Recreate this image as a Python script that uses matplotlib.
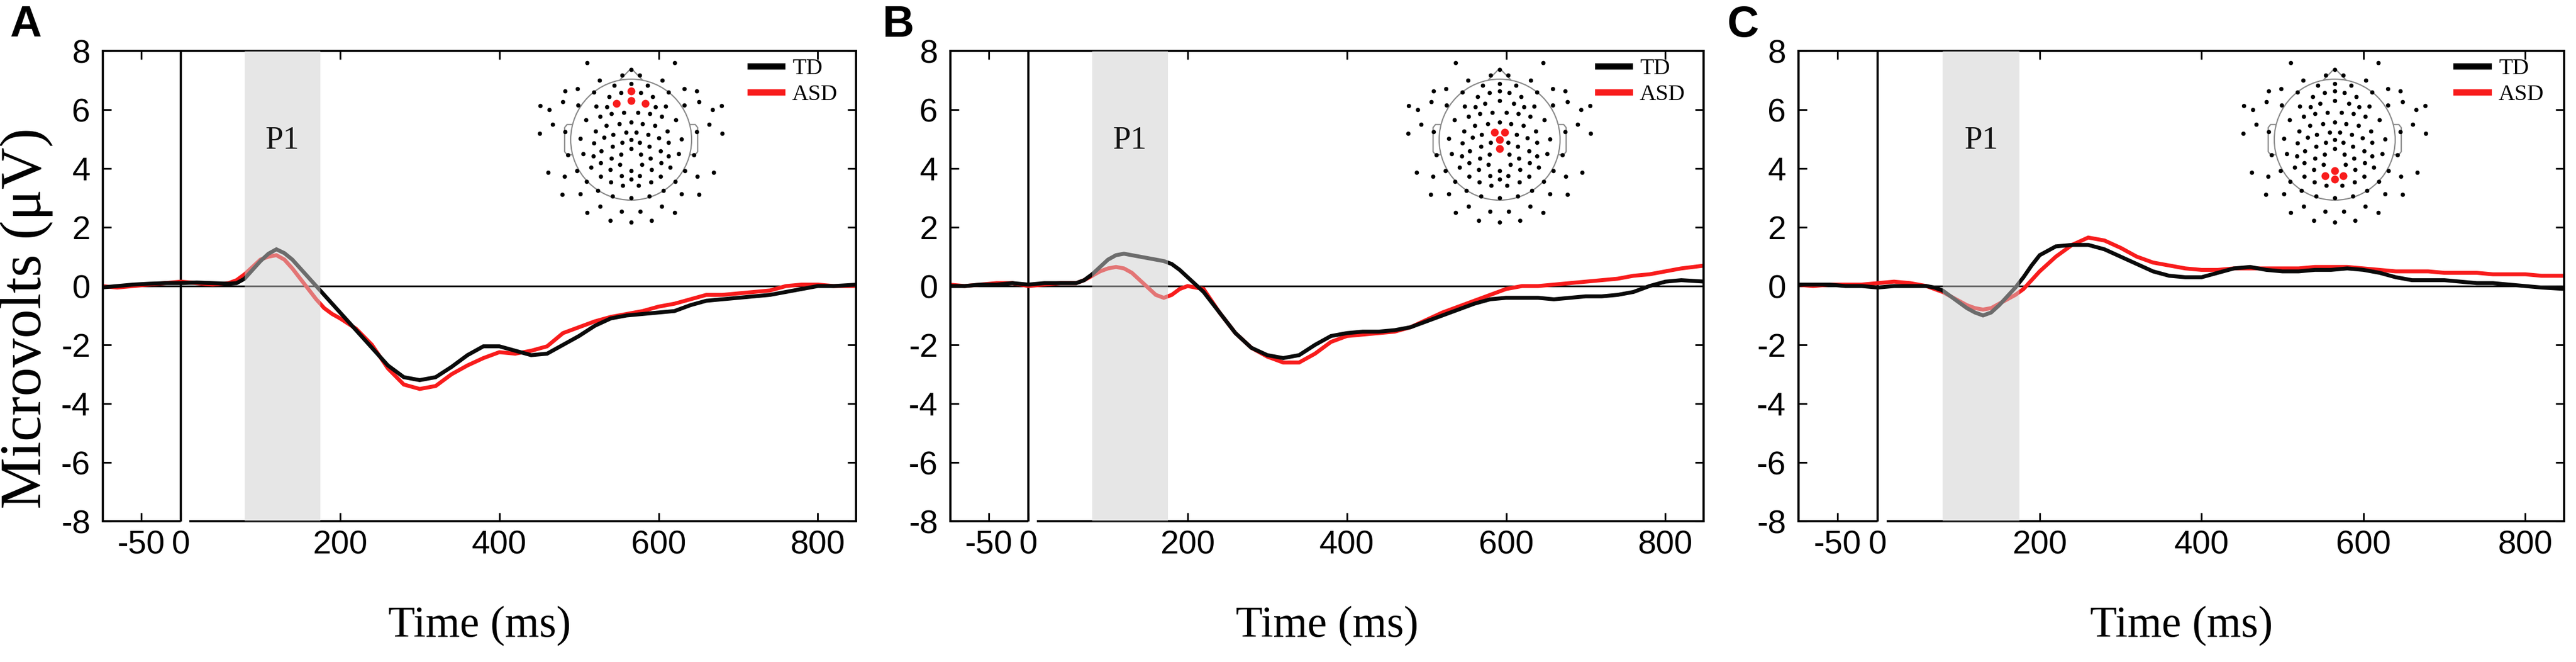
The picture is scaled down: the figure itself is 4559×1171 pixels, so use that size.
import numpy as np
import matplotlib
matplotlib.use("Agg")
import matplotlib.pyplot as plt
from matplotlib.lines import Line2D
from matplotlib.patches import Circle

plt.rcParams['axes.unicode_minus'] = False

# ---------------- data ----------------
time_ms = [-100, -80, -60, -40, -20, 0, 20, 40, 60, 70, 80, 90, 100, 110, 120, 130,
           140, 150, 160, 170, 180, 190, 200, 220, 240, 260, 280, 300, 320, 340, 360,
           380, 400, 420, 440, 460, 480, 500, 520, 540, 560, 580, 600, 620, 640, 660,
           680, 700, 720, 740, 760, 780, 800, 820, 850]

A_TD = [-0.05, 0.0, 0.05, 0.08, 0.1, 0.1, 0.12, 0.1, 0.08, 0.1, 0.25, 0.55, 0.85, 1.1,
        1.25, 1.12, 0.9, 0.6, 0.3, 0.0, -0.3, -0.6, -0.9, -1.5, -2.1, -2.7, -3.1, -3.2,
        -3.1, -2.75, -2.35, -2.05, -2.05, -2.2, -2.35, -2.3, -2.0, -1.7, -1.35, -1.1,
        -1.0, -0.95, -0.9, -0.85, -0.65, -0.5, -0.45, -0.4, -0.35, -0.3, -0.2, -0.1,
        0.0, 0.0, 0.05]
A_ASD = [0.0, -0.05, 0.0, 0.05, 0.1, 0.15, 0.1, 0.05, 0.1, 0.2, 0.4, 0.65, 0.9, 1.0,
         1.05, 0.9, 0.6, 0.25, -0.1, -0.45, -0.75, -0.95, -1.1, -1.45, -2.0, -2.8, -3.35,
         -3.5, -3.4, -3.0, -2.7, -2.45, -2.25, -2.3, -2.2, -2.05, -1.6, -1.4, -1.2, -1.05,
         -0.95, -0.85, -0.7, -0.6, -0.45, -0.3, -0.3, -0.25, -0.2, -0.15, 0.0, 0.05,
         0.05, 0.0, 0.0]

B_TD = [0.0, 0.0, 0.05, 0.05, 0.1, 0.05, 0.1, 0.1, 0.1, 0.2, 0.4, 0.65, 0.9, 1.05,
        1.1, 1.05, 1.0, 0.95, 0.9, 0.85, 0.75, 0.55, 0.3, -0.2, -0.9, -1.6, -2.1, -2.35,
        -2.45, -2.35, -2.0, -1.7, -1.6, -1.55, -1.55, -1.5, -1.4, -1.2, -1.0, -0.8,
        -0.6, -0.45, -0.4, -0.4, -0.4, -0.45, -0.4, -0.35, -0.35, -0.3, -0.2, 0.0,
        0.15, 0.2, 0.15]
B_ASD = [0.05, 0.0, 0.05, 0.1, 0.1, 0.0, 0.05, 0.1, 0.1, 0.2, 0.35, 0.5, 0.6, 0.65,
         0.6, 0.45, 0.2, -0.05, -0.3, -0.4, -0.3, -0.1, 0.0, -0.1, -0.9, -1.6, -2.1,
         -2.4, -2.6, -2.6, -2.3, -1.9, -1.7, -1.65, -1.6, -1.55, -1.4, -1.15, -0.9,
         -0.7, -0.5, -0.3, -0.1, 0.0, 0.0, 0.05, 0.1, 0.15, 0.2, 0.25, 0.35, 0.4, 0.5,
         0.6, 0.7]

C_TD = [0.05, 0.05, 0.05, 0.0, 0.0, -0.05, 0.0, 0.0, 0.0, -0.05, -0.15, -0.35, -0.55,
        -0.75, -0.9, -1.0, -0.9, -0.65, -0.35, -0.05, 0.3, 0.7, 1.05, 1.35, 1.4, 1.4,
        1.25, 1.0, 0.75, 0.5, 0.35, 0.3, 0.3, 0.45, 0.6, 0.65, 0.55, 0.5, 0.5, 0.55,
        0.55, 0.6, 0.55, 0.45, 0.3, 0.2, 0.2, 0.2, 0.15, 0.1, 0.1, 0.05, 0.0, -0.05,
        -0.1]
C_ASD = [0.05, 0.0, 0.05, 0.05, 0.05, 0.1, 0.15, 0.1, 0.0, -0.1, -0.2, -0.35, -0.5,
         -0.65, -0.75, -0.8, -0.75, -0.6, -0.45, -0.3, -0.1, 0.2, 0.5, 1.0, 1.4, 1.65,
         1.55, 1.3, 1.0, 0.8, 0.7, 0.6, 0.55, 0.55, 0.6, 0.6, 0.6, 0.6, 0.6, 0.65, 0.65,
         0.65, 0.6, 0.55, 0.5, 0.5, 0.5, 0.45, 0.45, 0.45, 0.4, 0.4, 0.4, 0.35, 0.35]

panel_letters = ['A', 'B', 'C']
series_names = ['TD', 'ASD']
p1_window = (80, 175)
y_ticks = [-8, -6, -4, -2, 0, 2, 4, 6, 8]
y_tick_labels = ['-8', '-6', '-4', '-2', '0', '2', '4', '6', '8']
x_ticks = [-50, 0, 200, 400, 600, 800]
x_tick_labels = ['-50', '0', '200', '400', '600', '800']

elec_x = [268, 732, 501, 453, 546, 333, 665, 410, 501, 588, 150, 216, 303, 448, 553, 698,
          783, 849, 501, 501, 424, 575, 383, 615, 18, 67, 138, 218, 316, 371, 629, 683,
          782, 860, 932, 980, 397, 462, 537, 601, 260, 336, 662, 738, 83, 370, 438, 501,
          561, 628, 916, 16, 150, 311, 473, 527, 693, 849, 983, 232, 356, 406, 592, 647,
          767, 501, 303, 454, 545, 700, 402, 501, 597, 165, 246, 299, 342, 447, 552, 657,
          700, 752, 833, 396, 603, 340, 442, 558, 660, 61, 212, 288, 389, 501, 609, 709,
          786, 938, 148, 340, 449, 546, 658, 852, 264, 392, 501, 606, 736, 457, 541, 325,
          673, 135, 230, 402, 501, 596, 768, 862, 335, 663, 267, 449, 549, 732, 389, 501,
          609]
elec_y = [8, 8, 42, 72, 72, 100, 100, 128, 118, 128, 157, 145, 163, 165, 165, 163, 145,
          157, 157, 207, 222, 222, 187, 187, 236, 255, 215, 233, 237, 242, 242, 237, 233,
          215, 255, 236, 277, 270, 270, 277, 310, 292, 292, 310, 335, 340, 332, 321, 332,
          340, 335, 381, 373, 369, 375, 375, 369, 373, 381, 409, 403, 389, 389, 407, 413,
          415, 434, 430, 430, 431, 452, 463, 452, 497, 491, 501, 476, 493, 493, 476, 501,
          491, 497, 513, 513, 537, 547, 547, 537, 588, 580, 562, 573, 580, 573, 562, 580,
          588, 611, 610, 606, 606, 610, 611, 636, 640, 625, 640, 636, 657, 657, 684, 684,
          706, 704, 715, 725, 715, 704, 706, 768, 768, 802, 796, 796, 802, 845, 854, 845]
red_A = [(501, 157), (501, 207), (424, 222), (575, 222)]
red_B = [(473, 375), (527, 375), (501, 415), (501, 463)]
red_C = [(501, 580), (449, 606), (546, 606), (501, 625)]

# ---------------- layout ----------------
W, H = 4559, 1171
DPI = 100
RED = '#f81c1c'
SERIF = 'Liberation Serif'
TICKFONT = ['Liberation Sans Narrow', 'Liberation Sans', 'DejaVu Sans']

fig = plt.figure(figsize=(W / DPI, H / DPI), dpi=DPI)

panel_px = [(182, 1515), (1682, 3015), (3183, 4538)]
label_px = [17, 1562, 3057]
head_cx = [1117, 2654, 4132]
AX_TOP, AX_BOT = 90, 922
XLIM = (-98, 848)

td_all = [A_TD, B_TD, C_TD]
asd_all = [A_ASD, B_ASD, C_ASD]
red_all = [red_A, red_B, red_C]


def add_px_axes(l, r, t, b):
    return fig.add_axes([l / W, 1 - b / H, (r - l) / W, (b - t) / H])


for i in range(3):
    l, r = panel_px[i]
    ax = add_px_axes(l, r, AX_TOP, AX_BOT)
    ax.set_xlim(*XLIM)
    ax.set_ylim(-8, 8)

    ax.axhline(0, color='black', lw=2.2, zorder=1.5)
    ax.axvline(0, color='black', lw=2.8, zorder=1.6)
    ax.plot(time_ms, asd_all[i], color=RED, lw=5.0, zorder=2, solid_joinstyle='miter')
    ax.plot(time_ms, td_all[i], color='#0a0a0a', lw=5.0, zorder=2.1, solid_joinstyle='miter')
    ax.axvspan(p1_window[0], p1_window[1], color='#cfcfcf', alpha=0.5, lw=0, zorder=3)
    ax.text((p1_window[0] + p1_window[1]) / 2, 4.95, 'P1', ha='center', va='center',
            fontsize=41, family=SERIF, color='#111111', zorder=4)

    for s in ax.spines.values():
        s.set_linewidth(2.8)
    ax.spines['bottom'].set_bounds(12, XLIM[1])
    ax.hlines(-8, XLIM[0], 0, color='black', lw=2.8, clip_on=False, zorder=2.5)

    ax.set_yticks(y_ticks)
    ax.set_yticklabels(y_tick_labels, family=TICKFONT, fontsize=42)
    ax.set_xticks(x_ticks)
    ax.set_xticklabels(x_tick_labels, family=TICKFONT, fontsize=42)
    ax.tick_params(axis='both', direction='in', length=11, width=2.2,
                   top=True, right=True)
    ax.tick_params(axis='y', pad=16)
    ax.tick_params(axis='x', pad=11)

    handles = [Line2D([], [], color='black', lw=8), Line2D([], [], color=RED, lw=8)]
    ax.legend(handles, series_names, loc='upper left',
              bbox_to_anchor=((715 - XLIM[0]) / (XLIM[1] - XLIM[0]), 0.985),
              frameon=False, prop={'family': SERIF, 'size': 29},
              handlelength=1.4, handletextpad=0.45, labelspacing=0.22,
              borderpad=0, borderaxespad=0)

    # time axis label
    fig.text((l + r) / 2 / W, 1 - 1108 / H, 'Time (ms)', ha='center', va='center',
             fontsize=56, family=SERIF)
    # panel letter
    fig.text(label_px[i] / W, 1 - 8 / H, panel_letters[i], ha='left', va='top',
             fontsize=56, fontweight='bold', family='Liberation Sans')

    # head map inset
    R = 107
    cx, cy = head_cx[i], 247
    hx = add_px_axes(cx - 1.6 * R, cx + 1.6 * R, cy - 1.35 * R, cy + 1.45 * R)
    hx.set_xlim(-1.6, 1.6)
    hx.set_ylim(-1.45, 1.35)
    hx.axis('off')
    hx.patch.set_alpha(0)
    hx.add_patch(Circle((0, 0), 1.0, fill=False, ec='#8a8a8a', lw=1.6))
    hx.plot([-0.19, 0.0, 0.19], [0.982, 1.18, 0.982], color='#8a8a8a', lw=1.6)
    for sgn in (-1, 1):
        hx.plot([sgn * 0.985, sgn * 1.06, sgn * 1.1, sgn * 1.1, sgn * 1.06, sgn * 0.985],
                [0.25, 0.25, 0.2, -0.2, -0.25, -0.25], color='#8a8a8a', lw=1.6)
    nx = (np.array(elec_x) - 501) / 321.0
    ny = (415 - np.array(elec_y)) / 321.0
    is_red = np.array([(x, y) in red_all[i] for x, y in zip(elec_x, elec_y)])
    hx.scatter(nx[~is_red], ny[~is_red], s=30, color='black', lw=0, zorder=3)
    hx.scatter(nx[is_red], ny[is_red], s=100, color=RED, lw=0, zorder=4)

fig.text(47 / W, 1 - 563 / H, 'Microvolts (\u03bcV)', rotation=90, ha='center',
         va='center', fontsize=74, family=SERIF)

fig.savefig('out.png', dpi=DPI)
